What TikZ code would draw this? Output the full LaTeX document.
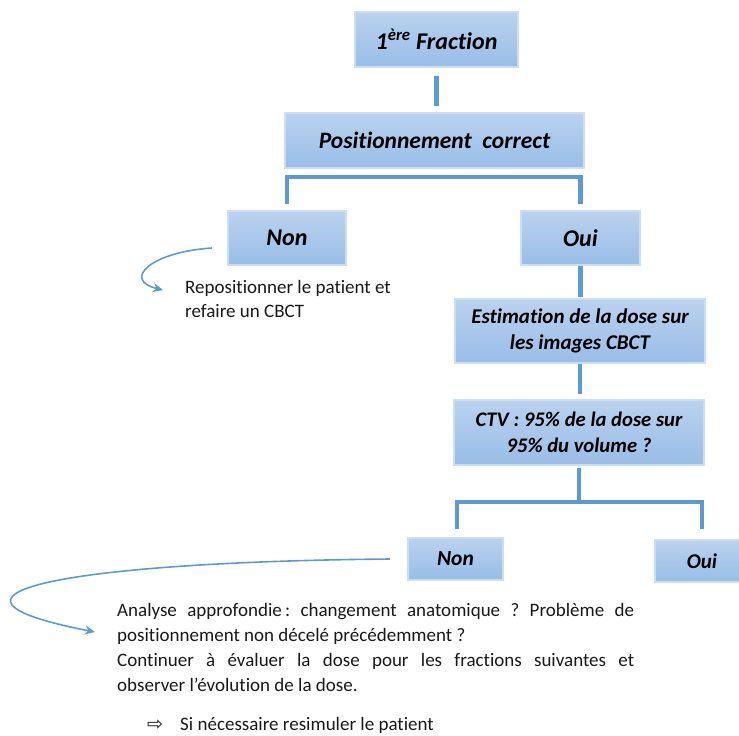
\documentclass[tikz,border=0pt]{standalone}
\usepackage{fontspec}
\setmainfont{Carlito}[Ligatures=NoCommon]
\newfontfamily\symfont{DejaVu Sans}
\usetikzlibrary{arrows.meta}
\frenchspacing

\definecolor{boxtop}{RGB}{186,210,238}
\definecolor{boxbot}{RGB}{152,189,231}
\definecolor{boxedge}{RGB}{205,222,242}
\definecolor{linkblue}{RGB}{91,155,213}

\tikzset{
  stepbox/.style={rectangle, top color=boxtop, bottom color=boxbot,
    draw=boxedge, line width=1.2pt, inner sep=2pt, align=center},
  conn/.style={draw=linkblue, line width=4.5pt},
  carrow/.style={draw=linkblue, line width=1.6pt,
    -{Stealth[length=10pt,width=9pt]}},
  plain/.style={inner sep=0pt, anchor=base west, text=black!90,
    font=\fontsize{19}{25}\selectfont}
}

\begin{document}
\begin{tikzpicture}[x=1pt,y=-1pt]
\useasboundingbox (0,0) rectangle (739,736);
\clip (0,0) rectangle (739,736);

% boxes of the decision tree
\node[stepbox, minimum width=163pt, minimum height=55pt, font=\fontsize{24}{28}\selectfont\bfseries\itshape]
  (f1) at (436.5,39.5) {1\textsuperscript{ère} Fraction};
\node[stepbox, minimum width=299pt, minimum height=55pt, font=\fontsize{23.5}{27}\selectfont\bfseries\itshape]
  (pos) at (434.5,140.5) {Positionnement\ \ correct};
\node[stepbox, minimum width=118pt, minimum height=54pt, font=\fontsize{24}{27}\selectfont\bfseries\itshape]
  (non1) at (287,238) {Non};
\node[stepbox, minimum width=119pt, minimum height=54pt, font=\fontsize{24}{27}\selectfont\bfseries\itshape]
  (oui1) at (580.5,238) {Oui};
\node[stepbox, minimum width=250pt, minimum height=64pt, font=\fontsize{21}{26.5}\selectfont\bfseries\itshape]
  (est) at (580,331) {Estimation de la dose sur\\les images CBCT};
\node[stepbox, minimum width=250pt, minimum height=65pt, font=\fontsize{20.7}{26}\selectfont\bfseries\itshape]
  (ctv) at (579,432.5) {CTV : 95\% de la dose sur\\95\% du volume ?};
\node[stepbox, minimum width=95pt, minimum height=42pt, font=\fontsize{21.5}{24}\selectfont\bfseries\itshape]
  (non2) at (455.5,559) {Non};
\node[stepbox, minimum width=94pt, minimum height=42pt, font=\fontsize{21}{24}\selectfont\bfseries\itshape]
  (oui2) at (702,561) {Oui};

% connectors
\draw[conn] ([yshift=-8pt]f1.south) -- ([yshift=6pt]f1.south |- pos.north);

\coordinate (b1) at (0,177);
\draw[conn] ([yshift=6pt]non1.north) -- (non1.north |- b1) -- (oui1.north |- b1) -- ([yshift=6pt]oui1.north);

\draw[conn] (oui1.south) -- ([yshift=1pt]oui1.south |- est.north);
\draw[conn] (est.south) -- ([yshift=5pt]est.south |- ctv.north);

\coordinate (b2) at (0,502);
\coordinate (l2) at (457,0);
\coordinate (r2) at (702,0);
\draw[conn] ([yshift=-2pt]ctv.south) -- (ctv.south |- b2);
\draw[conn] ([yshift=8pt]l2 |- non2.north) -- (l2 |- b2) -- (r2 |- b2) -- ([yshift=10pt]r2 |- oui2.north);

% side notes
\node[plain] (rep1) at (185,293) {Repositionner le patient et};
\node[plain] (rep2) at (185,317) {refaire un CBCT};

\coordinate (a1s) at (212,248);
\coordinate (a1e) at (163,290);
\draw[carrow] (a1s) .. controls (150,252) and (122,280) .. (a1e);

\node[plain] (t1) at (117,616)
  {\makebox[517pt][s]{Analyse approfondie\,: changement anatomique ? Problème de}};
\node[plain] (t2) at (117,641)
  {positionnement non décelé précédemment ?};
\node[plain] (t3) at (117,666)
  {\makebox[517pt][s]{Continuer à évaluer la dose pour les fractions suivantes et}};
\node[plain] (t4) at (117,691)
  {observer l’évolution de la dose.};
\node[plain, font=\fontsize{19}{20}\selectfont\symfont] (t5a) at (147,730) {⇨};
\node[plain] (t5) at (180,730)
  {Si nécessaire resimuler le patient};

\coordinate (a2s) at (390,559);
\coordinate (a2e) at (95,632);
\draw[carrow] (a2s) .. controls (60,562) and (-95,595) .. (a2e);
\end{tikzpicture}
\end{document}
